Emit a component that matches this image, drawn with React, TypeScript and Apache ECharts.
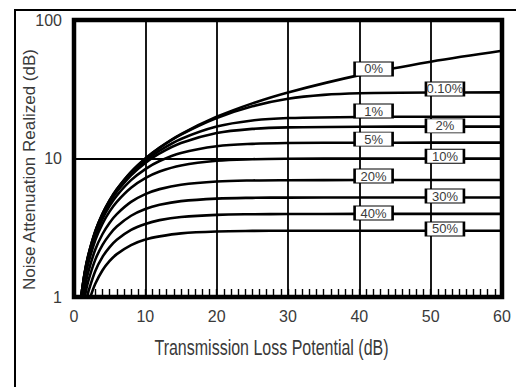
import React, { useEffect, useRef } from "react";
import * as echarts from "echarts";

// Transmission loss potential (dB) vs noise attenuation realized (dB), per open-area percentage
const open0 = [[1, 1], [1.5, 1.5], [2, 2], [3, 3], [4, 4], [5, 5], [6, 6], [8, 8], [10, 10], [12, 12], [15, 15], [20, 20], [25, 25], [30, 30], [40, 40], [50, 50], [60, 60]];
const open01 = [[1, 1], [1.5, 1.5], [2, 2], [3, 3], [4, 3.99], [5, 4.99], [6, 5.99], [8, 7.98], [10, 9.96], [12, 11.94], [15, 14.87], [20, 19.59], [25, 23.81], [30, 26.99], [35, 28.81], [40, 29.59], [50, 29.96], [60, 30]];
const open1 = [[1.01, 1], [1.5, 1.48], [2, 1.97], [3, 2.96], [4, 3.94], [5, 4.91], [6, 5.87], [8, 7.78], [10, 9.63], [12, 11.4], [15, 13.84], [20, 17.01], [25, 18.82], [30, 19.59], [40, 19.96], [50, 20], [60, 20]];
const open2 = [[1.02, 1], [1.5, 1.47], [2, 1.95], [3, 2.91], [4, 3.87], [5, 4.82], [6, 5.75], [8, 7.56], [10, 9.28], [12, 10.87], [15, 12.93], [20, 15.26], [25, 16.36], [30, 16.78], [40, 16.97], [50, 16.99], [60, 16.99]];
const open5 = [[1.06, 1], [1.5, 1.41], [2, 1.88], [3, 2.79], [4, 3.68], [5, 4.55], [6, 5.4], [8, 6.98], [10, 8.39], [12, 9.59], [15, 10.97], [20, 12.25], [25, 12.76], [30, 12.93], [40, 13], [50, 13.01], [60, 13.01]];
const open10 = [[1.13, 1], [1.5, 1.33], [2, 1.75], [3, 2.59], [4, 3.39], [5, 4.15], [6, 4.87], [8, 6.15], [10, 7.21], [12, 8.05], [15, 8.91], [20, 9.63], [25, 9.88], [30, 9.96], [40, 10], [50, 10], [60, 10]];
const open20 = [[1.29, 1], [1.5, 1.16], [2, 1.52], [3, 2.21], [4, 2.85], [5, 3.44], [6, 3.97], [8, 4.86], [10, 5.53], [12, 6.01], [15, 6.47], [20, 6.82], [25, 6.94], [30, 6.97], [40, 6.99], [50, 6.99], [60, 6.99]];
const open30 = [[1.51, 1], [2, 1.3], [3, 1.87], [4, 2.38], [5, 2.83], [6, 3.23], [8, 3.86], [10, 4.32], [12, 4.63], [15, 4.92], [20, 5.13], [25, 5.2], [30, 5.22], [40, 5.23], [50, 5.23], [60, 5.23]];
const open40 = [[1.82, 1], [2, 1.09], [3, 1.55], [4, 1.95], [5, 2.29], [6, 2.59], [8, 3.05], [10, 3.37], [12, 3.59], [15, 3.78], [20, 3.92], [25, 3.96], [30, 3.97], [40, 3.98], [50, 3.98], [60, 3.98]];
const open50 = [[2.3, 1], [3, 1.25], [4, 1.56], [5, 1.82], [6, 2.04], [8, 2.37], [10, 2.6], [12, 2.74], [15, 2.88], [20, 2.97], [25, 3], [30, 3.01], [40, 3.01], [50, 3.01], [60, 3.01]];

const seriesNames = ["0%", "0.10%", "1%", "2%", "5%", "10%", "20%", "30%", "40%", "50%"];
const seriesData = [open0, open01, open1, open2, open5, open10, open20, open30, open40, open50];
const labelTL = [42, 52, 42, 52, 42, 52, 42, 52, 42, 52];
const labelNR = [44.3, 31.8, 22, 17.2, 13.8, 10.4, 7.47, 5.36, 4.04, 3.1];

const xTitle = "Transmission Loss Potential (dB)";
const yTitle = "Noise Attenuation Realized (dB)";

const FONT = "'Liberation Sans', Arial, sans-serif";
const TEXT = "#3a3a3a";

export default function App() {
  const ref = useRef<HTMLDivElement>(null);
  useEffect(() => {
    if (!ref.current) return;
    const chart = echarts.init(ref.current, undefined, { renderer: "svg" });
    const series = seriesData.map((d, i) => ({
      type: "line",
      name: seriesNames[i],
      data: d,
      smooth: 0.35,
      showSymbol: false,
      symbol: "none",
      lineStyle: { color: "#000", width: 2.6 },
      clip: true,
      markPoint: {
        symbol: "rect",
        symbolSize: [38, 14],
        itemStyle: { color: "#fff", borderColor: "#000", borderWidth: 1.6 },
        label: {
          show: true,
          position: "inside",
          formatter: seriesNames[i],
          color: TEXT,
          fontFamily: FONT,
          fontSize: 13,
        },
        data: [{ coord: [labelTL[i], labelNR[i]] }],
      },
    }));
    chart.setOption({
      animation: false,
      backgroundColor: "#fff",
      grid: {
        left: 74,
        right: 14,
        top: 20,
        bottom: 90,
        show: true,
        borderColor: "#000",
        borderWidth: 4.5,
        backgroundColor: "transparent",
      },
      xAxis: {
        type: "value",
        min: 0,
        max: 60,
        interval: 10,
        axisLine: { show: false },
        axisTick: { show: true, inside: true, length: 8, lineStyle: { color: "#000", width: 1.4 } },
        minorTick: { show: true, splitNumber: 10, length: 8, lineStyle: { color: "#000", width: 1.4 } },
        axisLabel: { color: TEXT, fontFamily: FONT, fontSize: 16, margin: 11 },
        splitLine: { show: true, lineStyle: { color: "#000", width: 1.8 } },
      },
      yAxis: {
        type: "log",
        logBase: 10,
        min: 1,
        max: 100,
        axisLine: { show: false },
        axisTick: { show: false },
        axisLabel: { color: TEXT, fontFamily: FONT, fontSize: 16, margin: 12 },
        splitLine: { show: true, lineStyle: { color: "#000", width: 1.8 } },
      },
      series,
      graphic: [
        { type: "line", shape: { x1: 14, y1: 10, x2: 516, y2: 10 }, style: { stroke: "#000", lineWidth: 2 } },
        { type: "line", shape: { x1: 15, y1: 10, x2: 15, y2: 387 }, style: { stroke: "#000", lineWidth: 2 } },
        {
          type: "text",
          x: 271.5,
          y: 348,
          scaleY: 1.35,
          style: { text: xTitle, font: `16px ${FONT}`, fill: TEXT, textAlign: "center", textVerticalAlign: "middle" },
        },
        {
          type: "text",
          x: 29,
          y: 169.5,
          rotation: Math.PI / 2,
          style: { text: yTitle, font: `17px ${FONT}`, fill: TEXT, textAlign: "center", textVerticalAlign: "middle" },
        },
      ],
    });
    return () => chart.dispose();
  }, []);
  return <div ref={ref} style={{ position: "fixed", left: 0, top: 0, width: 516, height: 387 }} />;
}
